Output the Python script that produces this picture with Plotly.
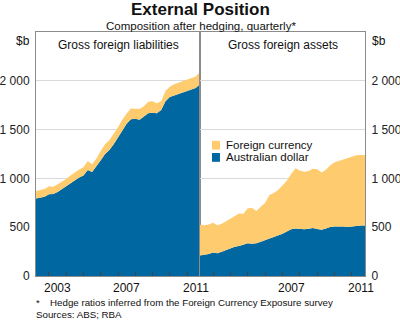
import plotly.graph_objects as go

# Quarterly observations, 2002 Q2 .. 2011 Q4 (plotted as year fractions)
start_year = 2002.25
n_quarters = 39
quarters = [start_year + 0.25 * i for i in range(n_quarters)]

# Gross foreign liabilities ($b)
liab_aud = [795, 800, 812, 838, 840, 860, 890, 918, 948, 985,
            1010, 1030, 1085, 1065, 1120, 1185, 1250, 1290, 1350, 1420,
            1495, 1560, 1605, 1610, 1600, 1630, 1668, 1672, 1668, 1700,
            1790, 1835, 1850, 1860, 1875, 1895, 1910, 1925, 1965]
liab_total = [870, 878, 892, 920, 915, 940, 965, 995, 1030, 1062,
              1090, 1115, 1178, 1145, 1205, 1280, 1350, 1390, 1455, 1525,
              1600, 1665, 1715, 1715, 1710, 1740, 1785, 1790, 1770, 1790,
              1895, 1940, 1965, 1980, 1995, 2015, 2025, 2045, 2090]

# Gross foreign assets ($b)
asset_aud = [210, 216, 225, 240, 232, 248, 265, 280, 300, 307,
             318, 335, 330, 335, 350, 370, 385, 400, 415, 432,
             455, 478, 486, 482, 480, 485, 492, 482, 474, 487,
             502, 506, 510, 508, 502, 508, 515, 518, 518]
asset_total = [525, 520, 528, 545, 520, 535, 560, 585, 610, 640,
               638, 695, 698, 665, 710, 750, 830, 850, 880, 925,
               975, 1045, 1105, 1080, 1068, 1075, 1100, 1093, 1060, 1088,
               1134, 1165, 1180, 1190, 1205, 1225, 1237, 1240, 1240]

y_tickvals = [0, 500, 1000, 1500, 2000]
y_ticktext = ["0", "500", "1 000", "1 500", "2 000"]
year_ticks = list(range(2003, 2012))
left_labels = [2003, 2007, 2011]
right_labels = [2007, 2011]

BLUE = "#0067a1"
YELLOW = "#fecc6e"
FONT = "Arial, Liberation Sans, sans-serif"
GRID = "#d9d9d9"
AXIS = "#8c8c8c"

fig = go.Figure()
for xa, ya, aud, tot in [("x", "y", liab_aud, liab_total),
                         ("x2", "y2", asset_aud, asset_total)]:
    fig.add_trace(go.Scatter(x=quarters, y=aud, xaxis=xa, yaxis=ya,
                             mode="lines", line=dict(width=0, color=BLUE),
                             fill="tozeroy", fillcolor=BLUE,
                             name="Australian dollar", showlegend=False,
                             hoverinfo="skip"))
    fig.add_trace(go.Scatter(x=quarters, y=tot, xaxis=xa, yaxis=ya,
                             mode="lines", line=dict(width=0, color=YELLOW),
                             fill="tonexty", fillcolor=YELLOW,
                             name="Foreign currency", showlegend=False,
                             hoverinfo="skip"))

xr = [start_year, start_year + 0.25 * (n_quarters - 1)]
split = 164 / 329
xcommon = dict(range=xr, tickvals=year_ticks, ticks="inside", ticklen=4,
               tickcolor="#444", tickwidth=1, showticklabels=False,
               showgrid=False, zeroline=False, showline=True,
               linecolor=AXIS, linewidth=1, mirror=True, layer="above traces",
               automargin=False, fixedrange=True)
ycommon = dict(range=[0, 2500], tickvals=y_tickvals, ticktext=y_ticktext,
               ticks="", showgrid=True, gridcolor=GRID, gridwidth=1,
               zeroline=False, showline=True, linecolor=AXIS, linewidth=1,
               mirror=True, tickfont=dict(family=FONT, size=12, color="#222"),
               layer="above traces", automargin=False, fixedrange=True)

fig.update_layout(
    template="none",
    width=400, height=321,
    margin=dict(l=36, r=35, t=32, b=45, autoexpand=False),
    paper_bgcolor="white", plot_bgcolor="white",
    showlegend=False,
    xaxis=dict(domain=[0, split], anchor="y", **xcommon),
    xaxis2=dict(domain=[split, 1], anchor="y2", **xcommon),
    yaxis=dict(anchor="x", side="left", ticklabelstandoff=3, **ycommon),
    yaxis2=dict(anchor="x2", side="right", ticklabelstandoff=3, **ycommon),
)

ann = []
tf = dict(family=FONT, color="#111")
ann.append(dict(text="<b>External Position</b>", x=0.5, y=1, xref="paper",
                yref="paper", yshift=23, showarrow=False, xanchor="center",
                yanchor="middle", font=dict(size=17, **tf)))
ann.append(dict(text="Composition after hedging, quarterly*", x=0.5, y=1,
                xref="paper", yref="paper", yshift=6, showarrow=False,
                xanchor="center", yanchor="middle", font=dict(size=11.5, **tf)))
ann.append(dict(text="$b", x=0, y=1, xref="paper", yref="paper", xshift=-4,
                yshift=-9, showarrow=False, xanchor="right", yanchor="middle",
                font=dict(size=12, **tf)))
ann.append(dict(text="$b", x=1, y=1, xref="paper", yref="paper", xshift=5,
                yshift=-9, showarrow=False, xanchor="left", yanchor="middle",
                font=dict(size=12, **tf)))
ann.append(dict(text="Gross foreign liabilities", x=split / 2, y=1,
                xref="paper", yref="paper", yshift=-13, showarrow=False,
                xanchor="center", yanchor="middle", font=dict(size=12, **tf)))
ann.append(dict(text="Gross foreign assets", x=(split + 1) / 2, y=1,
                xref="paper", yref="paper", yshift=-13, showarrow=False,
                xanchor="center", yanchor="middle", font=dict(size=12, **tf)))
for yr in left_labels:
    ann.append(dict(text=str(yr), x=yr + 0.5, y=0, xref="x", yref="paper",
                    yshift=-12, showarrow=False, xanchor="center",
                    yanchor="middle", font=dict(size=12, **tf)))
for yr in right_labels:
    ann.append(dict(text=str(yr), x=yr + 0.5, y=0, xref="x2", yref="paper",
                    yshift=-12, showarrow=False, xanchor="center",
                    yanchor="middle", font=dict(size=12, **tf)))
ann.append(dict(text="*", x=0, y=0, xref="paper", yref="paper", xshift=-2,
                yshift=-26, showarrow=False, xanchor="left", yanchor="middle",
                font=dict(size=9.75, **tf)))
ann.append(dict(text="Hedge ratios inferred from the Foreign Currency Exposure survey",
                x=0, y=0, xref="paper", yref="paper", xshift=12, yshift=-26,
                showarrow=False, xanchor="left", yanchor="middle",
                font=dict(size=9.75, **tf)))
ann.append(dict(text="Sources: ABS; RBA", x=0, y=0, xref="paper",
                yref="paper", xshift=-2, yshift=-38, showarrow=False,
                xanchor="left", yanchor="middle", font=dict(size=9.75, **tf)))

# custom legend inside the assets panel
leg_x = 2003.0
for label, color, yv in [("Foreign currency", YELLOW, 1340),
                         ("Australian dollar", BLUE, 1215)]:
    ann.append(dict(text=label, x=leg_x, y=yv, xref="x2", yref="y2",
                    xshift=11, showarrow=False, xanchor="left",
                    yanchor="middle", font=dict(size=11.5, **tf)))
    fig.add_shape(type="rect", xref="x2", yref="y2", x0=leg_x - 0.06,
                  x1=leg_x + 0.4, y0=yv - 45, y1=yv + 45, fillcolor=color,
                  line=dict(width=0))

fig.update_layout(annotations=ann)
fig.write_html("out.html")
